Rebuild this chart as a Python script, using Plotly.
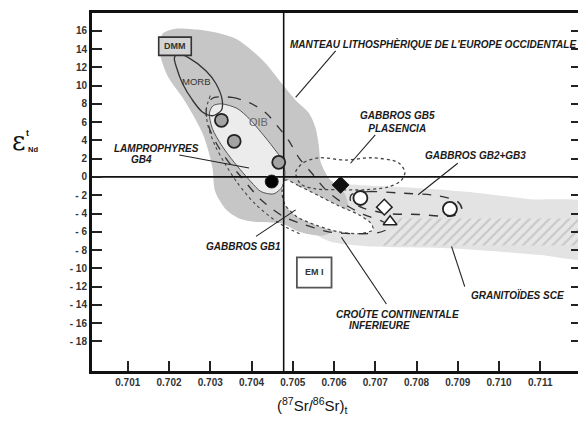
import plotly.graph_objects as go

# ---------------- data ----------------
X_RANGE = [0.700133, 0.711988]
Y_RANGE = [-21.23, 17.94]
X_TICKS = [0.701, 0.702, 0.703, 0.704, 0.705, 0.706, 0.707, 0.708, 0.709, 0.710, 0.711]
X_TICKTEXT = ["0.701", "0.702", "0.703", "0.704", "0.705", "0.706", "0.707", "0.708", "0.709", "0.710", "0.711"]
Y_TICKS = [16, 14, 12, 10, 8, 6, 4, 2, 0, -2, -4, -6, -8, -10, -12, -14, -16, -18]
Y_TICKTEXT = ["16", "14", "12", "10", "8", "6", "4", "2", "0", "- 2", "- 4", "- 6", "- 8",
              "- 10", "- 12", "- 14", "- 16", "- 18"]

VLINE_X = 0.70478   # reference Sr line
HLINE_Y = 0.0       # reference Nd line

# fields (outlines, data units)
mantle_x = [0.70184, 0.70213, 0.70273, 0.70314, 0.70363, 0.70394, 0.70435, 0.70474, 0.70507,
            0.70539, 0.70555, 0.70563, 0.70568, 0.70587, 0.70623, 0.70635, 0.70616, 0.70575,
            0.70515, 0.70474, 0.70406, 0.70370, 0.70339, 0.70312, 0.70305, 0.70281, 0.70237,
            0.70196, 0.70177]
mantle_y = [15.65, 16.2, 16.1, 15.8, 15.1, 14.1, 12.4, 10.2, 8.4, 7.0, 5.4, 3.5, 1.6, -0.1, -1.6,
            -3.4, -5.3, -6.4, -6.0, -5.1, -4.9, -4.55, -3.6, -1.6, 1.1, 4.8, 8.4, 11.1, 13.8]

granit_x = [0.70587, 0.70707, 0.70828, 0.70948, 0.71069, 0.7125, 0.7125, 0.71093, 0.70997,
            0.70876, 0.70755, 0.70659, 0.70587, 0.70543, 0.70551]
granit_y = [-1.0, -1.0, -1.3, -1.75, -2.4, -3.15, -8.8, -8.5, -8.15, -7.8, -7.7, -7.5, -7.0,
            -5.75, -3.0]

hatch_x = [0.70760, 0.7125, 0.7125, 0.70712]
hatch_y = [-4.55, -4.55, -7.5, -7.5]

lamp_field_x = [0.70327, 0.70365, 0.70394, 0.70423, 0.70454, 0.70474, 0.70481, 0.70476, 0.70454,
                0.70423, 0.70399, 0.70358, 0.70327, 0.70305, 0.70298, 0.70307]
lamp_field_y = [8.0, 7.5, 6.4, 4.9, 3.15, 1.85, 0.54, -0.98, -1.85, -1.6, -0.54, 1.6, 3.5, 5.3,
                7.0, 7.8]

crust_x = [0.70483, 0.70515, 0.70563, 0.70611, 0.70659, 0.70688, 0.70695, 0.70664, 0.70611,
           0.70558, 0.70510, 0.70481, 0.70474]
crust_y = [-0.33, -0.98, -2.05, -3.15, -4.1, -5.0, -5.75, -6.2, -6.0, -5.3, -4.35, -3.0, -1.6]

oib_x = [0.70310, 0.70353, 0.70394, 0.70435, 0.70466, 0.70490, 0.70515, 0.70546, 0.70580,
         0.70623, 0.70671, 0.70719, 0.70736, 0.70707, 0.70647, 0.70587, 0.70527, 0.70478,
         0.70423, 0.70375, 0.70341, 0.70317, 0.70298, 0.70290, 0.70295]
oib_y = [8.7, 8.7, 8.15, 7.0, 5.4, 4.0, 2.1, 0.43, -1.4, -2.9, -4.1, -4.9, -5.5, -6.1, -6.2,
         -6.0, -5.2, -4.35, -2.5, 0.0, 1.85, 3.5, 5.3, 7.1, 8.15]

# second (outer) dashed trace along the left side of the OIB field
oib_outer_x = [0.70300, 0.70290, 0.70295, 0.70312, 0.70335, 0.70365, 0.70410, 0.70465, 0.70520]
oib_outer_y = [8.9, 7.3, 5.5, 3.4, 1.5, -0.6, -3.0, -5.0, -6.3]

morb_x = [0.70220, 0.70249, 0.70290, 0.70314, 0.70329, 0.70327, 0.70305, 0.70281, 0.70257,
          0.70233, 0.70218, 0.70213]
morb_y = [13.5, 13.0, 11.6, 10.2, 8.4, 7.3, 6.7, 7.1, 8.4, 10.2, 12.0, 13.0]

gb5_x = [0.70507, 0.70527, 0.70563, 0.70628, 0.70690, 0.70755, 0.70772, 0.70762, 0.70731,
         0.70676, 0.70611, 0.70555, 0.70519]
gb5_y = [0.54, 1.6, 2.1, 1.85, 2.1, 1.6, 0.54, -0.43, -1.1, -1.4, -1.4, -1.3, -0.76]

gb23_x = [0.70642, 0.70683, 0.70755, 0.70852, 0.70900, 0.70910, 0.70888, 0.70804, 0.70731,
          0.70671, 0.70640]
gb23_y = [-1.95, -1.6, -1.75, -2.05, -2.7, -3.6, -4.25, -4.1, -4.0, -3.4, -2.6]

# samples
gb4_x = [0.70327, 0.70358, 0.70466]          # lamprophyres GB4 (grey circles)
gb4_y = [6.2, 3.9, 1.6]
gb1_x = [0.70449]                            # gabbros GB1 (black dot)
gb1_y = [-0.5]
gb5_pt_x = [0.70616]                         # gabbros GB5 (black diamond)
gb5_pt_y = [-0.87]
gb23_circ_x = [0.70664, 0.70881]             # gabbros GB2+GB3 (open circles)
gb23_circ_y = [-2.3, -3.5]
gb23_diam_x = [0.70722]                      # open diamond
gb23_diam_y = [-3.3]
gb23_tri_x = [0.70736]                       # open triangle
gb23_tri_y = [-4.9]

# reference boxes [x0, x1, y0, y1]
DMM_BOX = [0.70175, 0.70254, 13.3, 15.3]
EM1_BOX = [0.70510, 0.70594, -12.1, -8.8]

# leader lines: (x0, y0, x1, y1)
leaders = [
    (0.70604, 13.8, 0.70507, 8.7),     # manteau
    (0.70700, 4.6, 0.70640, 1.5),      # GB5
    (0.70900, 1.5, 0.70804, -1.95),    # GB2+GB3
    (0.70225, 2.4, 0.70394, 0.98),     # lamprophyres
    (0.70411, -6.5, 0.70507, -3.6),    # GB1
    (0.70727, -13.9, 0.70618, -6.6),   # croute
    (0.70917, -12.0, 0.70885, -7.6),   # granitoides
]

# labels: (text, x, y, size, style)
labels = [
    ("MANTEAU LITHOSPHÈRIQUE DE L'EUROPE OCCIDENTALE", 0.70839, 14.6, 10, "bi"),
    ("GABBROS GB5<br>PLASENCIA", 0.70755, 6.0, 10, "bi"),
    ("GABBROS GB2+GB3", 0.70944, 2.4, 10, "bi"),
    ("LAMPROPHYRES", 0.70170, 3.15, 10, "bi"),
    ("GB4", 0.70134, 1.95, 10, "bi"),
    ("GABBROS GB1", 0.70380, -7.6, 10, "bi"),
    ("CROÛTE CONTINENTALE", 0.70755, -15.0, 10, "bi"),
    ("INFERIEURE", 0.70710, -16.2, 10, "bi"),
    ("GRANITOÏDES SCE", 0.71045, -12.9, 10, "bi"),
    ("EM I", 0.70552, -10.45, 9, "b"),
    ("DMM", 0.70214, 14.3, 9, "b"),
    ("MORB", 0.70266, 10.5, 9.5, "n"),
    ("OIB", 0.70418, 6.0, 11, "g"),
]

FONT = "Liberation Sans, Arial, sans-serif"

fig = go.Figure()


def closed(xs, ys):
    return list(xs) + [xs[0]], list(ys) + [ys[0]]


def field(xs, ys, fill=None, line_color=None, width=1.0, dash="solid", pattern=None,
          smooth=True, close=True):
    cx, cy = closed(xs, ys) if close else (list(xs), list(ys))
    kw = dict(x=cx, y=cy, mode="lines", hoverinfo="skip", showlegend=False,
              line=dict(color=line_color or "rgba(0,0,0,0)", width=width if line_color else 0,
                        dash=dash, shape="spline" if smooth else "linear", smoothing=0.8))
    if fill is not None:
        kw["fill"] = "toself"
        kw["fillcolor"] = fill
    if pattern is not None:
        kw["fill"] = "toself"
        kw["fillpattern"] = pattern
    fig.add_trace(go.Scatter(**kw))


field(granit_x, granit_y, fill="#e3e3e3")
field(hatch_x, hatch_y, pattern=dict(shape="/", fgcolor="#a9a9a9", bgcolor="#e6e6e6",
                                     size=7, solidity=0.3), smooth=False)
field(mantle_x, mantle_y, fill="#c6c6c6")
field(lamp_field_x, lamp_field_y, fill="#ececec", line_color="#555555", width=1.0)
field(crust_x, crust_y, fill="#ffffff", line_color="#444444", width=1.2, dash="dot")
field(oib_x, oib_y, line_color="#333333", width=1.3, dash="dash")
field(oib_outer_x, oib_outer_y, line_color="#444444", width=1.1, dash="dot", close=False)
field(morb_x, morb_y, line_color="#333333", width=1.3)
field(gb5_x, gb5_y, line_color="#444444", width=1.3, dash="dot")
field(gb23_x, gb23_y, line_color="#333333", width=1.4, dash="dash")

# crosshair lines
fig.add_trace(go.Scatter(x=[VLINE_X, VLINE_X], y=[Y_RANGE[0], Y_RANGE[1]], mode="lines",
                         line=dict(color="#111111", width=1.6), hoverinfo="skip", showlegend=False))
fig.add_trace(go.Scatter(x=[X_RANGE[0], X_RANGE[1]], y=[HLINE_Y, HLINE_Y], mode="lines",
                         line=dict(color="#111111", width=1.8), hoverinfo="skip", showlegend=False))

# leader lines
lx, ly = [], []
for x0, y0, x1, y1 in leaders:
    lx += [x0, x1, None]
    ly += [y0, y1, None]
fig.add_trace(go.Scatter(x=lx, y=ly, mode="lines", line=dict(color="#222222", width=1.1),
                         hoverinfo="skip", showlegend=False))


def pts(xs, ys, symbol, size, fill, lw=1.5):
    fig.add_trace(go.Scatter(x=xs, y=ys, mode="markers", hoverinfo="skip", showlegend=False,
                             marker=dict(symbol=symbol, size=size, color=fill,
                                         line=dict(color="#222222", width=lw))))


pts(gb4_x, gb4_y, "circle", 13, "#a3a3a3", 1.8)
pts(gb1_x, gb1_y, "circle", 13, "#000000", 1)
pts(gb5_pt_x, gb5_pt_y, "diamond", 13, "#111111", 1)
pts(gb23_circ_x, gb23_circ_y, "circle", 14, "#ffffff", 1.8)
pts(gb23_diam_x, gb23_diam_y, "diamond", 12, "#ffffff", 1.5)
pts(gb23_tri_x, gb23_tri_y, "triangle-up", 12, "#ffffff", 1.5)

# boxes
fig.add_shape(type="rect", xref="x", yref="y", x0=DMM_BOX[0], x1=DMM_BOX[1], y0=DMM_BOX[2],
              y1=DMM_BOX[3], fillcolor="#d4d4d4", line=dict(color="#333333", width=1.6))
fig.add_shape(type="rect", xref="x", yref="y", x0=EM1_BOX[0], x1=EM1_BOX[1], y0=EM1_BOX[2],
              y1=EM1_BOX[3], fillcolor="#ffffff", line=dict(color="#555555", width=1.8))

for text, x, y, size, style in labels:
    if style == "bi":
        t = "<b><i>" + text + "</i></b>"
        col = "#1a1a1a"
    elif style == "b":
        t = "<b>" + text + "</b>"
        col = "#333333"
    elif style == "g":
        t = text
        col = "#666666"
    else:
        t = text
        col = "#333333"
    fig.add_annotation(x=x, y=y, xref="x", yref="y", text=t, showarrow=False,
                       font=dict(family=FONT, size=size, color=col), align="center")

# axis titles
fig.add_annotation(x=-0.168, y=0.643, xref="paper", yref="paper", text="ε", showarrow=False,
                   font=dict(family="DejaVu Serif, serif", size=26, color="#111111"))
fig.add_annotation(x=-0.139, y=0.684, xref="paper", yref="paper", text="<b>t</b>", showarrow=False,
                   font=dict(family=FONT, size=9, color="#111111"))
fig.add_annotation(x=-0.135, y=0.618, xref="paper", yref="paper", text="<b>Nd</b>", showarrow=False,
                   font=dict(family=FONT, size=7.5, color="#111111"))
fig.add_annotation(x=0.451, y=-0.062, xref="paper", yref="paper", yanchor="top",
                   text="(<sup>87</sup>Sr/<sup>86</sup>Sr)<sub>t</sub>", showarrow=False,
                   font=dict(family=FONT, size=15, color="#111111"))

# page body has an 8 px margin: size and margins compensate so the plot area
# sits at x 92..584, y 12..371 of the 586x424 window
fig.update_layout(
    width=578, height=416,
    margin=dict(l=84, r=2, t=4, b=53),
    paper_bgcolor="white", plot_bgcolor="white",
    showlegend=False,
    xaxis=dict(range=X_RANGE, tickvals=X_TICKS, ticktext=X_TICKTEXT, ticks="inside", ticklen=10,
               tickwidth=1.5, tickcolor="#222222", showgrid=False, zeroline=False,
               showline=True, linewidth=3, linecolor="#111111", mirror=True,
               tickfont=dict(family=FONT, size=10, color="#333333", weight="bold")),
    yaxis=dict(range=Y_RANGE, tickvals=Y_TICKS, ticktext=Y_TICKTEXT, ticks="inside", ticklen=10,
               tickwidth=1.5, tickcolor="#222222", showgrid=False, zeroline=False,
               showline=True, linewidth=3, linecolor="#111111", mirror="ticks",
               tickfont=dict(family=FONT, size=10, color="#333333", weight="bold")),
)

fig.write_html("out.html")
